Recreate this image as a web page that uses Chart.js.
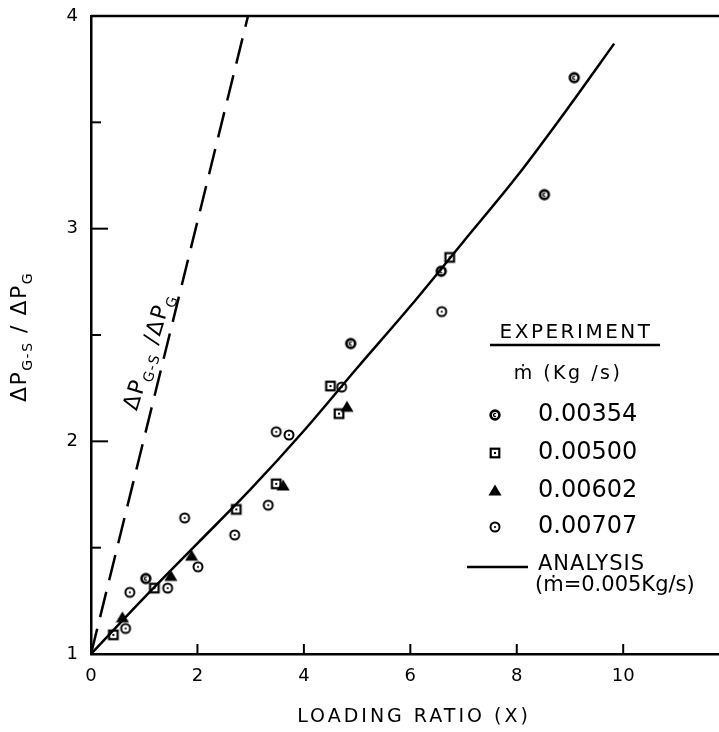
<!DOCTYPE html>
<html>
<head>
<meta charset="utf-8">
<script src="https://cdn.jsdelivr.net/npm/chart.js@4"></script>
<style>
  html, body { margin: 0; padding: 0; background: #fff; overflow: hidden; }
  canvas { display: block; }
</style>
</head>
<body>
<canvas id="myChart" width="719" height="732"></canvas>
<script>
// experiment, m dot = 0.00354 kg/s
const x354 = [1.03, 4.88, 6.58, 8.52, 9.08];
const y354 = [1.355, 2.46, 2.80, 3.16, 3.71];
// 0.00500 kg/s
const x500 = [0.42, 1.19, 2.73, 3.48, 4.50, 4.66, 6.74];
const y500 = [1.09, 1.31, 1.68, 1.80, 2.26, 2.13, 2.865];
// 0.00602 kg/s
const x602 = [0.59, 1.50, 1.89, 3.61, 4.81];
const y602 = [1.17, 1.365, 1.46, 1.79, 2.16];
// 0.00707 kg/s
const x707 = [0.65, 0.73, 1.44, 1.76, 2.01, 2.70, 3.33, 3.48, 3.72, 4.71, 6.59];
const y707 = [1.12, 1.29, 1.31, 1.64, 1.41, 1.56, 1.70, 2.045, 2.03, 2.255, 2.61];
// analysis curve (m dot = 0.005 kg/s)
const xAna = [0, 1, 2, 3, 4, 5, 6, 7, 8, 9, 9.83];
const yAna = [1, 1.265, 1.52, 1.775, 2.05, 2.345, 2.635, 2.94, 3.245, 3.58, 3.87];
// dashed line
const xDash = [0, 2.95];
const yDash = [1, 4];
// axes
const xTicks = [0, 2, 4, 6, 8, 10];
const yTicks = [1, 2, 3, 4];
const yMinor = [1.5, 2, 2.5, 3, 3.5];

const FONT = '"DejaVu Sans", sans-serif';

function pts(xs, ys) {
    return xs.map((x, i) => ({x: x, y: ys[i]}));
}

function marker(kind) {
    const s = 14, m = s / 2;
    const c = document.createElement('canvas');
    c.width = s; c.height = s;
    const g = c.getContext('2d');
    g.strokeStyle = '#000'; g.fillStyle = '#000';
    if (kind == 'c') {
        g.lineWidth = 2.6;
        g.beginPath(); g.arc(m, m, 4.4, 0, 2 * Math.PI); g.stroke();
        g.lineWidth = 1.4;
        g.beginPath(); g.arc(m, m, 1.5, 0.3 * Math.PI, 1.7 * Math.PI); g.stroke();
    } else if (kind == 'dot') {
        g.lineWidth = 2;
        g.beginPath(); g.arc(m, m, 4.5, 0, 2 * Math.PI); g.stroke();
        g.beginPath(); g.arc(m, m, 1.1, 0, 2 * Math.PI); g.fill();
    } else if (kind == 'square') {
        g.lineWidth = 2.2;
        g.strokeRect(m - 4.3, m - 4.3, 8.6, 8.6);
        g.fillRect(m - 1, m - 1, 2, 2);
    } else {
        g.lineWidth = 2;
        g.beginPath(); g.moveTo(m, m - 4.5); g.lineTo(m + 4.8, m + 3.6); g.lineTo(m - 4.8, m + 3.6); g.closePath();
        g.fill(); g.stroke();
    }
    return c;
}

const mk354 = marker('c'), mk500 = marker('square'), mk602 = marker('tri'), mk707 = marker('dot');

function rich(ctx, parts, cx, cy, angle, spacing) {
    ctx.save();
    ctx.translate(cx, cy);
    ctx.rotate(angle);
    ctx.letterSpacing = spacing + 'px';
    ctx.textBaseline = 'alphabetic';
    ctx.textAlign = 'left';
    let w = 0;
    parts.forEach(p => { ctx.font = p.size + 'px ' + FONT; w += ctx.measureText(p.t).width; });
    let x = -w / 2;
    parts.forEach(p => {
        ctx.font = p.size + 'px ' + FONT;
        ctx.fillText(p.t, x, 8 + (p.dy || 0));
        x += ctx.measureText(p.t).width;
    });
    ctx.restore();
}

const dpParts = [
    {t: '\u0394P', size: 22}, {t: 'G-S', size: 14, dy: 6},
    {t: ' / ', size: 22},
    {t: '\u0394P', size: 22}, {t: 'G', size: 14, dy: 6}
];
const dpParts2 = [
    {t: '\u0394P', size: 22}, {t: 'G-S', size: 14, dy: 6},
    {t: ' /', size: 22},
    {t: '\u0394P', size: 22}, {t: 'G', size: 14, dy: 6}
];

const deco = {
    id: 'deco',
    afterDraw(chart) {
        const ctx = chart.ctx, a = chart.chartArea;
        const sx = chart.scales.x, sy = chart.scales.y;
        ctx.save();
        ctx.strokeStyle = '#000'; ctx.fillStyle = '#000';
        // top frame line
        ctx.lineWidth = 2.5;
        ctx.beginPath(); ctx.moveTo(a.left, a.top); ctx.lineTo(a.right, a.top); ctx.stroke();
        // inner ticks
        ctx.lineWidth = 2;
        xTicks.forEach(v => {
            if (v == 0) return;
            const p = sx.getPixelForValue(v);
            ctx.beginPath(); ctx.moveTo(p, a.bottom); ctx.lineTo(p, a.bottom - 10); ctx.stroke();
        });
        yMinor.forEach(v => {
            const p = sy.getPixelForValue(v);
            const len = Number.isInteger(v) ? 17 : 10;
            ctx.beginPath(); ctx.moveTo(a.left, p); ctx.lineTo(a.left + len, p); ctx.stroke();
        });

        // axis titles
        rich(ctx, dpParts, 18, 337, -Math.PI / 2, 1.5);
        rich(ctx, dpParts2, 147, 351, -73 * Math.PI / 180, 1.5);
        ctx.font = '19px ' + FONT;
        ctx.letterSpacing = '3px';
        ctx.textAlign = 'center'; ctx.textBaseline = 'middle';
        ctx.fillText('LOADING RATIO (X)', 414, 717);

        // legend
        ctx.font = '20px ' + FONT;
        ctx.letterSpacing = '2.5px';
        ctx.fillText('EXPERIMENT', 576, 333);
        ctx.lineWidth = 2.5;
        ctx.beginPath(); ctx.moveTo(490, 345); ctx.lineTo(660, 345); ctx.stroke();
        ctx.font = '19px ' + FONT;
        ctx.letterSpacing = '2.5px';
        ctx.fillText('\u1E41 (Kg /s)', 568, 374);

        const rows = [[mk354, '0.00354', 415], [mk500, '0.00500', 453], [mk602, '0.00602', 491], [mk707, '0.00707', 527]];
        ctx.letterSpacing = '0px';
        ctx.textAlign = 'left';
        ctx.font = '24px ' + FONT;
        rows.forEach(r => {
            ctx.drawImage(r[0], 495 - r[0].width / 2, r[2] - r[0].height / 2);
            ctx.fillText(r[1], 538, r[2]);
        });
        ctx.lineWidth = 2.5;
        ctx.beginPath(); ctx.moveTo(467, 567); ctx.lineTo(528, 567); ctx.stroke();
        ctx.font = '21px ' + FONT;
        ctx.letterSpacing = '1px';
        ctx.fillText('ANALYSIS', 538, 565);
        ctx.letterSpacing = '0px';
        ctx.fillText('(\u1E41=0.005Kg/s)', 535, 586);
        ctx.restore();
    }
};

const ctx = document.getElementById('myChart').getContext('2d');
const myChart = new Chart(ctx, {
    type: 'scatter',
    data: {
        datasets: [
            {
                type: 'line',
                label: 'ANALYSIS',
                data: pts(xAna, yAna),
                borderColor: '#000',
                borderWidth: 2.5,
                pointRadius: 0,
                cubicInterpolationMode: 'monotone',
                fill: false
            },
            {
                type: 'line',
                label: 'dP ratio',
                data: pts(xDash, yDash),
                borderColor: '#000',
                borderWidth: 2.5,
                borderDash: [26, 12],
                pointRadius: 0,
                fill: false
            },
            { label: '0.00354', data: pts(x354, y354), pointStyle: mk354 },
            { label: '0.00500', data: pts(x500, y500), pointStyle: mk500 },
            { label: '0.00602', data: pts(x602, y602), pointStyle: mk602 },
            { label: '0.00707', data: pts(x707, y707), pointStyle: mk707 }
        ]
    },
    options: {
        responsive: false,
        animation: false,
        events: [],
        layout: { autoPadding: false, padding: { top: 16, right: 0, left: 0, bottom: 0 } },
        plugins: {
            legend: { display: false },
            tooltip: { enabled: false }
        },
        scales: {
            x: {
                type: 'linear',
                min: 0,
                max: 11.8,
                afterFit: s => { s.height = 78; s.paddingLeft = 0; s.paddingRight = 0; },
                grid: { display: false, drawTicks: false },
                border: { display: true, color: '#000', width: 2.5 },
                ticks: {
                    stepSize: 2,
                    includeBounds: false,
                    padding: 12,
                    color: '#000',
                    font: { family: 'DejaVu Sans', size: 18 },
                    maxRotation: 0,
                    callback: v => v <= 10 ? v : ''
                }
            },
            y: {
                type: 'linear',
                min: 1,
                max: 4,
                afterFit: s => { s.width = 91; s.paddingTop = 0; s.paddingBottom = 0; },
                grid: { display: false, drawTicks: false },
                border: { display: true, color: '#000', width: 2.5 },
                ticks: {
                    stepSize: 1,
                    padding: 13,
                    color: '#000',
                    font: { family: 'DejaVu Sans', size: 18 }
                }
            }
        }
    },
    plugins: [deco]
});
</script>
</body>
</html>
